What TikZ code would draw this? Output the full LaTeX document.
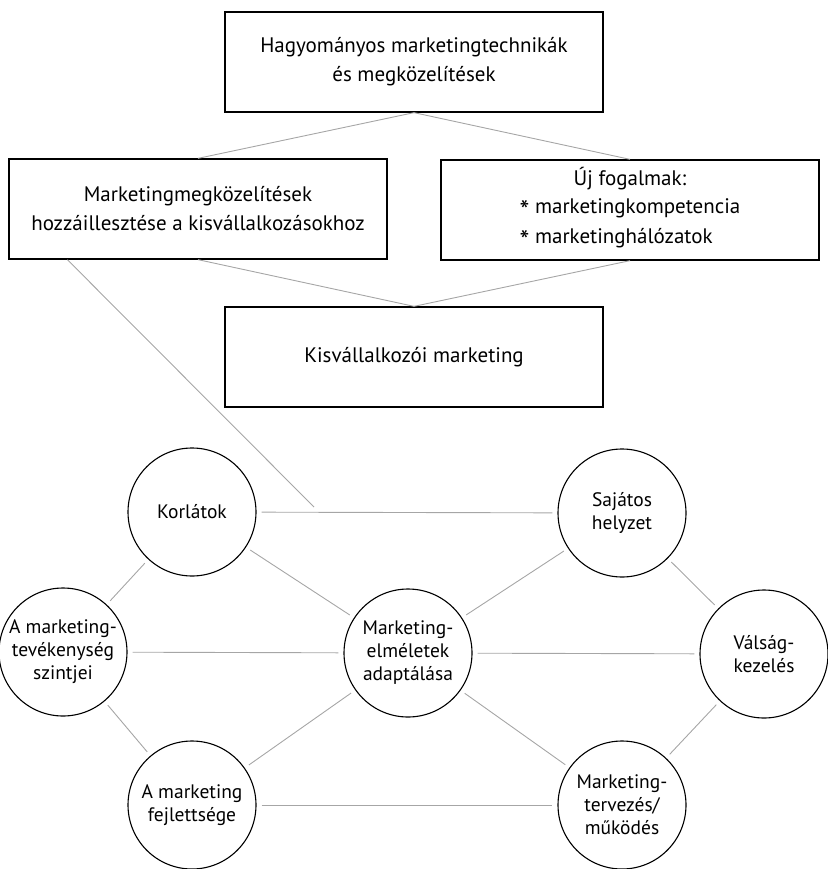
\documentclass[tikz,border=0pt]{standalone}
\usepackage{fontspec}
\setmainfont{PT Sans}
\usepackage{tikz}
\newcommand{\ujstar}{\raisebox{-7pt}{\fontsize{28}{28}\selectfont*}}

\begin{document}
\begin{tikzpicture}[
  x=1pt, y=-1pt,
  every node/.style={font=\fontsize{21}{29}\selectfont},
  box/.style={draw=black, line width=1.3pt, fill=white, minimum width=378pt, minimum height=100pt, align=center},
  circ/.style={draw=black, line width=1.1pt, fill=white, circle, minimum size=128pt, inner sep=0pt, align=center, font=\fontsize{19.5}{23}\selectfont},
  conn/.style={draw=gray!70, line width=0.9pt},
  gap/.style={shorten <=5pt, shorten >=5pt},
]
\useasboundingbox (0,0) rectangle (827,869);
\node[box] (hagy) at (414,62) {Hagyományos marketingtechnikák\\és megközelítések};
\node[box] (hozza) at (198,209) {Marketingmegközelítések\\hozzáillesztése a kisvállalkozásokhoz};
\node[box] (uj) at (630,210) {Új fogalmak:\\[2pt]\begin{tabular}{@{}l@{}}\ujstar{} marketingkompetencia\\[1pt]\ujstar{} marketinghálózatok\end{tabular}};
\node[box] (kisv) at (414,357) {Kisvállalkozói marketing};
\node[circ] (korl) at (192,512) {Korlátok};
\node[circ] (sajat) at (622,513) {Sajátos\\helyzet};
\node[circ] (szint) at (63,652) {A marketing-\\tevékenység\\szintjei};
\node[circ] (adapt) at (408,653) {Marketing-\\elméletek\\adaptálása};
\node[circ] (valsag) at (764,654) {Válság-\\kezelés};
\node[circ] (fejl) at (192,805) {A marketing\\fejlettsége};
\node[circ] (terv) at (622,805) {Marketing-\\tervezés/\\működés};
\coordinate (meet) at (314,507);
\draw[conn] (hagy.south) -- (hozza.north);
\draw[conn] (hagy.south) -- (uj.north);
\draw[conn] (hozza.south) -- (kisv.north);
\draw[conn] (uj.south) -- (kisv.north);
\draw[conn] ([xshift=59pt]hozza.south west) -- (meet);
\draw[conn, gap] (korl) -- (sajat);
\draw[conn, gap] (korl) -- (szint);
\draw[conn, gap] (korl) -- (adapt);
\draw[conn, gap] (sajat) -- (adapt);
\draw[conn, gap] (sajat) -- (valsag);
\draw[conn, gap] (szint) -- (adapt);
\draw[conn, gap] (adapt) -- (valsag);
\draw[conn, gap] (szint) -- (fejl);
\draw[conn, gap] (adapt) -- (fejl);
\draw[conn, gap] (adapt) -- (terv);
\draw[conn, gap] (valsag) -- (terv);
\draw[conn, gap] (fejl) -- (terv);
\end{tikzpicture}
\end{document}
